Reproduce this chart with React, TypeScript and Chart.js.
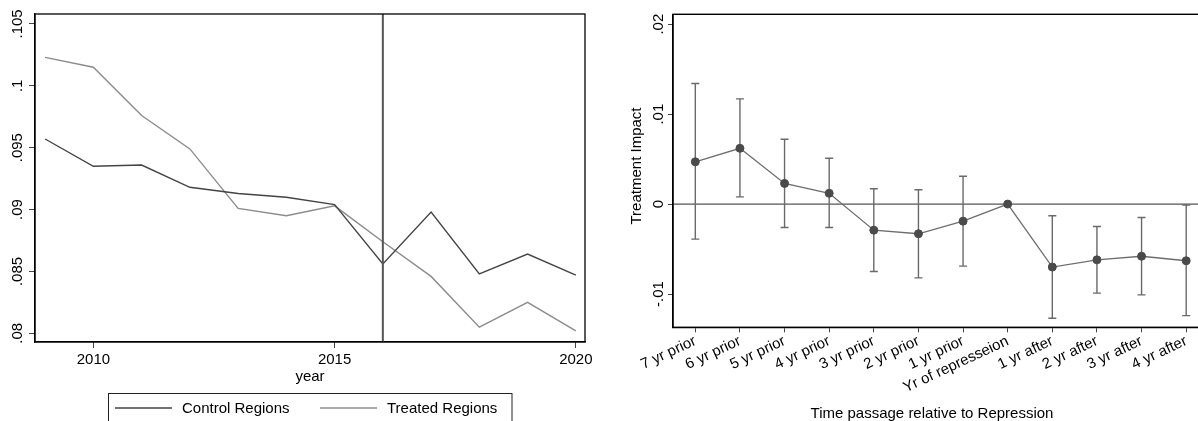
import React, { useEffect, useRef } from "react";
import { Chart, registerables } from "chart.js";

Chart.register(...registerables);

const FONT = "'Liberation Sans', Arial, Helvetica, sans-serif";

// Left panel: outcome trends by region group
const years = [2009, 2010, 2011, 2012, 2013, 2014, 2015, 2016, 2017, 2018, 2019, 2020];
const controlRegions = [0.0957, 0.0935, 0.0936, 0.0918, 0.0913, 0.091, 0.0904, 0.0856, 0.0898, 0.0848, 0.0864, 0.0847];
const treatedRegions = [0.1023, 0.1015, 0.0976, 0.0949, 0.0901, 0.0895, 0.0903, 0.0874, 0.0846, 0.0805, 0.0825, 0.0802];
const treatmentYear = 2016;
const trendXTicks = [2010, 2015, 2020];
const trendYTicks = [0.08, 0.085, 0.09, 0.095, 0.1, 0.105];
const trendYTickLabels = [".08", ".085", ".09", ".095", ".1", ".105"];

// Right panel: event-study estimates with confidence intervals
const periods = [
  "7 yr prior",
  "6 yr prior",
  "5 yr prior",
  "4 yr prior",
  "3 yr prior",
  "2 yr prior",
  "1 yr prior",
  "Yr of represseion",
  "1 yr after",
  "2 yr after",
  "3 yr after",
  "4 yr after",
];
const impact = [0.0047, 0.0062, 0.0023, 0.0012, -0.0029, -0.0033, -0.0019, 0, -0.007, -0.0062, -0.0058, -0.0063];
const ciUpper = [0.0134, 0.0117, 0.0072, 0.0051, 0.0017, 0.0016, 0.0031, 0, -0.0013, -0.0025, -0.0015, -0.0001];
const ciLower = [-0.0039, 0.0008, -0.0026, -0.0026, -0.0075, -0.0082, -0.0069, 0, -0.0127, -0.0099, -0.0101, -0.0124];
const impactYTicks = [-0.01, 0, 0.01, 0.02];
const impactYTickLabels = ["-.01", "0", ".01", ".02"];

function drawVerticalTickLabels(chart: any, values: number[], labels: string[], cx: number) {
  const { ctx } = chart;
  const yScale = chart.scales.y;
  ctx.save();
  ctx.fillStyle = "#000";
  ctx.font = `15px ${FONT}`;
  ctx.textAlign = "center";
  ctx.textBaseline = "middle";
  values.forEach((v, i) => {
    const py = yScale.getPixelForValue(v);
    ctx.save();
    ctx.translate(cx, py);
    ctx.rotate(-Math.PI / 2);
    ctx.fillText(labels[i], 0, 0);
    ctx.restore();
  });
  ctx.restore();
}

const trendDecor = {
  id: "trendDecor",
  afterDatasetsDraw(chart: any) {
    const { ctx, chartArea } = chart;
    const xScale = chart.scales.x;
    const px = xScale.getPixelForValue(treatmentYear);
    ctx.save();
    ctx.strokeStyle = "#555";
    ctx.lineWidth = 2;
    ctx.beginPath();
    ctx.moveTo(px, chartArea.top);
    ctx.lineTo(px, chartArea.bottom);
    ctx.stroke();
    ctx.restore();
  },
  afterDraw(chart: any) {
    const { ctx, chartArea } = chart;
    ctx.save();
    ctx.strokeStyle = "#000";
    ctx.lineWidth = 1.3;
    ctx.strokeRect(chartArea.left, chartArea.top, chartArea.right - chartArea.left, chartArea.bottom - chartArea.top);
    ctx.restore();

    drawVerticalTickLabels(chart, trendYTicks, trendYTickLabels, 17.5);

    ctx.save();
    ctx.fillStyle = "#000";
    ctx.font = `15px ${FONT}`;
    ctx.textAlign = "center";
    ctx.textBaseline = "middle";
    ctx.fillText("year", (chartArea.left + chartArea.right) / 2, 377);

    // legend
    ctx.strokeStyle = "#222";
    ctx.lineWidth = 1;
    ctx.strokeRect(108.5, 393.5, 403.5, 40);
    const items = [
      { label: chart.data.datasets[0].label, color: chart.data.datasets[0].borderColor, x0: 115, x1: 172, tx: 182 },
      { label: chart.data.datasets[1].label, color: chart.data.datasets[1].borderColor, x0: 320, x1: 377, tx: 387 },
    ];
    ctx.textAlign = "left";
    items.forEach((it) => {
      ctx.strokeStyle = it.color;
      ctx.lineWidth = 1.4;
      ctx.beginPath();
      ctx.moveTo(it.x0, 408);
      ctx.lineTo(it.x1, 408);
      ctx.stroke();
      ctx.fillText(it.label, it.tx, 409);
    });
    ctx.restore();
  },
};

const impactDecor = {
  id: "impactDecor",
  beforeDatasetsDraw(chart: any) {
    const { ctx, chartArea } = chart;
    const xScale = chart.scales.x;
    const yScale = chart.scales.y;
    ctx.save();
    // zero reference line
    const y0 = yScale.getPixelForValue(0);
    ctx.strokeStyle = "#555";
    ctx.lineWidth = 1.4;
    ctx.beginPath();
    ctx.moveTo(chartArea.left, y0);
    ctx.lineTo(chartArea.right, y0);
    ctx.stroke();
    // confidence intervals
    ctx.strokeStyle = "#6a6a6a";
    ctx.lineWidth = 1.4;
    periods.forEach((_, i) => {
      if (ciUpper[i] === ciLower[i]) return;
      const px = xScale.getPixelForValue(i);
      const yt = yScale.getPixelForValue(ciUpper[i]);
      const yb = yScale.getPixelForValue(ciLower[i]);
      ctx.beginPath();
      ctx.moveTo(px, yt);
      ctx.lineTo(px, yb);
      ctx.moveTo(px - 4, yt);
      ctx.lineTo(px + 4, yt);
      ctx.moveTo(px - 4, yb);
      ctx.lineTo(px + 4, yb);
      ctx.stroke();
    });
    ctx.restore();
  },
  afterDraw(chart: any) {
    const { ctx, chartArea } = chart;
    ctx.save();
    ctx.strokeStyle = "#000";
    ctx.lineWidth = 1.4;
    ctx.strokeRect(chartArea.left, chartArea.top, chartArea.right - chartArea.left, chartArea.bottom - chartArea.top);
    ctx.restore();

    drawVerticalTickLabels(chart, impactYTicks, impactYTickLabels, 58.7);

    ctx.save();
    ctx.fillStyle = "#000";
    ctx.font = `15px ${FONT}`;
    ctx.textAlign = "center";
    ctx.textBaseline = "middle";
    ctx.save();
    ctx.translate(37, 166);
    ctx.rotate(-Math.PI / 2);
    ctx.fillText("Treatment Impact", 0, 0);
    ctx.restore();
    ctx.fillText("Time passage relative to Repression", 332, 414);
    ctx.restore();
  },
};

const axisLine = { display: true, color: "#000", width: 1.3 };
const tickMarks = { drawOnChartArea: false, drawTicks: true, tickLength: 6, color: "#444", lineWidth: 1 };

export default function App() {
  const leftRef = useRef<HTMLCanvasElement>(null);
  const rightRef = useRef<HTMLCanvasElement>(null);

  useEffect(() => {
    Chart.defaults.font.family = FONT;
    Chart.defaults.font.size = 15;
    Chart.defaults.color = "#000";

    const trend = new Chart(leftRef.current as HTMLCanvasElement, {
      type: "line",
      data: {
        datasets: [
          {
            label: "Control Regions",
            data: years.map((x, i) => ({ x, y: controlRegions[i] })),
            borderColor: "#444",
            borderWidth: 1.4,
            pointRadius: 0,
            tension: 0,
          },
          {
            label: "Treated Regions",
            data: years.map((x, i) => ({ x, y: treatedRegions[i] })),
            borderColor: "#8c8c8c",
            borderWidth: 1.4,
            pointRadius: 0,
            tension: 0,
          },
        ],
      },
      options: {
        animation: false,
        responsive: false,
        maintainAspectRatio: false,
        layout: { padding: { top: 14, right: 15, left: 0, bottom: 0 } },
        plugins: { legend: { display: false }, tooltip: { enabled: false } },
        scales: {
          x: {
            type: "linear",
            min: 2008.79,
            max: 2020.19,
            afterBuildTicks: (s: any) => {
              s.ticks = trendXTicks.map((v) => ({ value: v }));
            },
            afterFit: (s: any) => {
              s.height = 79;
            },
            ticks: {
              callback: (v: any) => String(v),
              color: "#000",
              font: { size: 15, family: FONT },
              padding: 3,
              maxRotation: 0,
              autoSkip: false,
            },
            grid: tickMarks,
            border: axisLine,
          },
          y: {
            type: "linear",
            min: 0.0793,
            max: 0.1058,
            afterBuildTicks: (s: any) => {
              s.ticks = trendYTicks.map((v) => ({ value: v }));
            },
            afterFit: (s: any) => {
              s.width = 35;
            },
            ticks: { display: false },
            grid: tickMarks,
            border: axisLine,
          },
        },
      },
      plugins: [trendDecor],
    } as any);

    const events = new Chart(rightRef.current as HTMLCanvasElement, {
      type: "line",
      data: {
        labels: periods,
        datasets: [
          {
            label: "Treatment Impact",
            data: impact,
            borderColor: "#6e6e6e",
            borderWidth: 1.3,
            pointRadius: 4,
            pointBackgroundColor: "#4a4a4a",
            pointBorderColor: "#4a4a4a",
            pointBorderWidth: 1,
            tension: 0,
          },
        ],
      },
      options: {
        animation: false,
        responsive: false,
        maintainAspectRatio: false,
        layout: { padding: { top: 14.3, right: 11.5, left: 0, bottom: 0 } },
        plugins: { legend: { display: false }, tooltip: { enabled: false } },
        scales: {
          x: {
            type: "category",
            offset: true,
            afterFit: (s: any) => {
              s.height = 93.7;
            },
            ticks: {
              color: "#000",
              font: { size: 15, family: FONT },
              minRotation: 25,
              maxRotation: 25,
              autoSkip: false,
              padding: 0,
            },
            grid: { ...tickMarks, offset: false, tickLength: 5 },
            border: axisLine,
          },
          y: {
            type: "linear",
            min: -0.0137,
            max: 0.0211,
            afterBuildTicks: (s: any) => {
              s.ticks = impactYTicks.map((v) => ({ value: v }));
            },
            afterFit: (s: any) => {
              s.width = 73;
            },
            ticks: { display: false },
            grid: { ...tickMarks, tickLength: 5 },
            border: axisLine,
          },
        },
      },
      plugins: [impactDecor],
    } as any);

    return () => {
      trend.destroy();
      events.destroy();
    };
  }, []);

  return (
    <div
      style={{
        position: "fixed",
        left: 0,
        top: 0,
        width: 1198,
        height: 421,
        overflow: "hidden",
        background: "#fff",
      }}
    >
      <canvas ref={leftRef} width={600} height={421} style={{ position: "absolute", left: 0, top: 0 }} />
      <canvas ref={rightRef} width={620} height={421} style={{ position: "absolute", left: 600, top: 0 }} />
    </div>
  );
}
